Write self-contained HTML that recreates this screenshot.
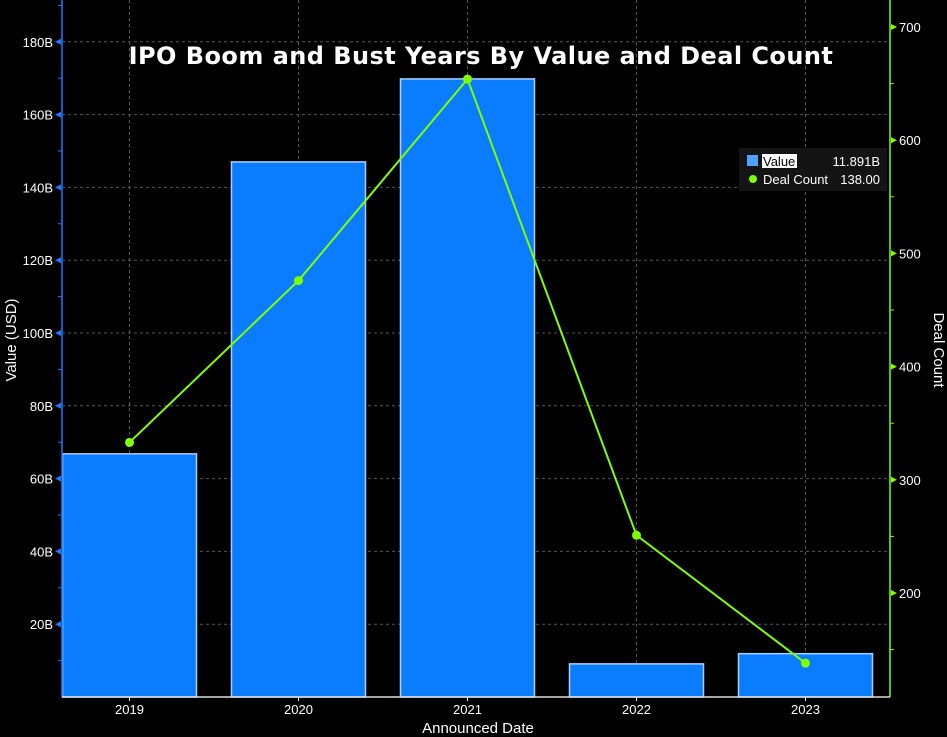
<!DOCTYPE html>
<html><head><meta charset="utf-8"><style>
html,body{margin:0;padding:0;background:#000;}
svg{display:block;font-family:"Liberation Sans","DejaVu Sans",sans-serif;}
</style></head><body>
<svg id="chart" width="947" height="737">
<g id="grid"></g><g id="bars"></g><g id="axes"></g><g id="line"></g>
<text x="481" y="64" text-anchor="middle" fill="#fff" font-size="24" font-weight="bold" letter-spacing="0.45" font-family="DejaVu Sans, sans-serif">IPO Boom and Bust Years By Value and Deal Count</text>
<text transform="translate(16,340) rotate(-90)" text-anchor="middle" fill="#fff" font-size="15">Value (USD)</text>
<text transform="translate(934,350) rotate(90)" text-anchor="middle" fill="#fff" font-size="15">Deal Count</text>
<text x="478" y="733" text-anchor="middle" fill="#fff" font-size="15">Announced Date</text>
<g>
<rect x="739" y="148" width="148" height="43" fill="#141414"/>
<rect x="747" y="155" width="11" height="11" fill="#4aa3ff"/>
<rect x="762" y="154" width="35" height="14" fill="#fff"/>
<text x="763" y="166" fill="#000" font-size="13">Value</text>
<text x="880" y="166" fill="#fff" font-size="13" text-anchor="end">11.891B</text>
<circle cx="753" cy="179" r="4" fill="#7fff00"/>
<text x="763" y="184" fill="#fff" font-size="13">Deal Count</text>
<text x="880" y="184" fill="#fff" font-size="13" text-anchor="end">138.00</text>
</g>
</svg>
<script>
const categories=["2019","2020","2021","2022","2023"];
const values=[66.8,147,169.8,9.1,11.9];
const dealCounts=[333,476,654,251,138];
const leftTicks=[20,40,60,80,100,120,140,160,180];
const rightTicks=[200,300,400,500,600,700];
const NS="http://www.w3.org/2000/svg";
const L=62,R=890,B=697;
const yL=v=>B-v*3.64;
const yR=v=>27+(700-v)*1.132;
const xC=i=>129.5+i*169;
function mk(t,a,p){const e=document.createElementNS(NS,t);for(const k in a)e.setAttribute(k,a[k]);document.getElementById(p).appendChild(e);return e;}
leftTicks.forEach(v=>{
 const g=mk("line",{x1:L,x2:R,y1:yL(v),y2:yL(v),stroke:"#555","stroke-dasharray":"3,3"},"grid");
 
 
 const tk=mk("path",{d:`M${L-7},${yL(v)} l6,-3 v6 z`,fill:"#1e7bff"},"axes");
 
 
 const t=mk("text",{x:L-9,y:yL(v)+5,fill:"#fff","font-size":13,"text-anchor":"end"},"axes");t.textContent=v+"B";
 
 
 mk("line",{x1:L-4,x2:L,y1:yL(v-10),y2:yL(v-10),stroke:"#1e7bff"},"axes");
});
mk("line",{x1:L-4,x2:L,y1:yL(190),y2:yL(190),stroke:"#1e7bff"},"axes");
categories.forEach((c,i)=>{
 const g=mk("line",{x1:xC(i),x2:xC(i),y1:0,y2:B,stroke:"#555","stroke-dasharray":"3,3"},"grid");
 
 
 const b=mk("rect",{x:xC(i)-67,y:yL(values[i]),width:134,height:B-yL(values[i]),fill:"#0a7cff",stroke:"#a8d0ff","stroke-width":1.5},"bars");
 
 
 const t=mk("text",{x:xC(i),y:714,fill:"#fff","font-size":13,"text-anchor":"middle"},"axes");t.textContent=c;
 
 
 mk("line",{x1:xC(i),x2:xC(i),y1:B,y2:B+4,stroke:"#fff"},"axes");
});
rightTicks.forEach(v=>{
 const t=mk("text",{x:R+9,y:yR(v)+5,fill:"#fff","font-size":13},"axes");t.textContent=v;
 
 
 mk("path",{d:`M${R+7},${yR(v)} l-6,-3 v6 z`,fill:"#7fff00"},"axes");
 mk("line",{x1:R,x2:R+4,y1:yR(v-50),y2:yR(v-50),stroke:"#7fff00"},"axes");
});
const la=mk("line",{x1:L,x2:L,y1:0,y2:B,stroke:"#1e7bff","stroke-width":1.5},"axes");


const ra=mk("line",{x1:R,x2:R,y1:0,y2:B,stroke:"#7fff00","stroke-width":1.5},"axes");


const ba=mk("line",{x1:L,x2:R,y1:B,y2:B,stroke:"#ddd","stroke-width":1.5},"axes");


const pl=mk("polyline",{points:dealCounts.map((v,i)=>xC(i)+","+yR(v)).join(" "),fill:"none",stroke:"#7fff00","stroke-width":2},"line");


dealCounts.forEach((v,i)=>{
 const p=mk("circle",{cx:xC(i),cy:yR(v),r:4.5,fill:"#7fff00"},"line");
 
 
});
</script>
</body></html>
